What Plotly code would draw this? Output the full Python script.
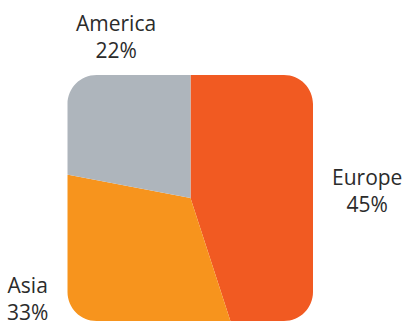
import plotly.graph_objects as go

# ---- data ----
regions = ["Europe", "Asia", "America"]
shares = [45, 33, 22]
colors = ["#f15a22", "#f7941d", "#aeb5bc"]

# ---- layout geometry (pixels) ----
W, H = 405, 370
cx, cy = 190.5, 198.0          # centre of the rounded square (from top)
R = 166.0                      # pie radius, large enough to cover the square's corners
sq = dict(x0=67.5, x1=313.0, y0=75.0, y1=321.0, r=29.0)

def px(x):
    return x / W

def py(y):
    return 1 - y / H

fig = go.Figure(go.Pie(
    labels=regions,
    values=shares,
    marker=dict(colors=colors, line=dict(width=0)),
    sort=False,
    direction="clockwise",
    rotation=0,
    textinfo="none",
    hoverinfo="label+percent",
    showlegend=False,
    domain=dict(x=[px(cx - R), px(cx + R)], y=[py(cy + R), py(cy - R)]),
))

# mask: white everywhere except a rounded square
k = 0.5523 * sq["r"]
x0, x1, y0, y1, r = sq["x0"], sq["x1"], sq["y0"], sq["y1"], sq["r"]
def P(x, y):
    return f"{px(x):.5f},{py(y):.5f}"
outer = f"M{P(-20,-20)} L{P(W+20,-20)} L{P(W+20,H+20)} L{P(-20,H+20)} Z"
inner = (
    f"M{P(x0 + r, y0)} L{P(x1 - r, y0)} "
    f"C{P(x1 - r + k, y0)} {P(x1, y0 + r - k)} {P(x1, y0 + r)} "
    f"L{P(x1, y1 - r)} "
    f"C{P(x1, y1 - r + k)} {P(x1 - r + k, y1)} {P(x1 - r, y1)} "
    f"L{P(x0 + r, y1)} "
    f"C{P(x0 + r - k, y1)} {P(x0, y1 - r + k)} {P(x0, y1 - r)} "
    f"L{P(x0, y0 + r)} "
    f"C{P(x0, y0 + r - k)} {P(x0 + r - k, y0)} {P(x0 + r, y0)} Z"
)
fig.add_shape(type="path", path=outer + " " + inner, xref="paper", yref="paper",
              fillcolor="white", fillrule="evenodd", line=dict(width=0), layer="above")

# labels
label_pos = {"Europe": (367, 191), "Asia": (27, 298), "America": (116, 37)}
for name, val in zip(regions, shares):
    x, y = label_pos[name]
    fig.add_annotation(x=px(x), y=py(y), xref="paper", yref="paper",
                       text=f"{name}<br>{val}%", showarrow=False,
                       xanchor="center", yanchor="middle", align="center",
                       font=dict(family="Open Sans", size=21, color="#2b2b2b"))

fig.update_layout(width=W, height=H, margin=dict(l=0, r=0, t=0, b=0),
                  paper_bgcolor="white", plot_bgcolor="white")

fig.write_html("out.html",
               post_script="document.documentElement.style.overflow='hidden';document.body.style.overflow='hidden';")
